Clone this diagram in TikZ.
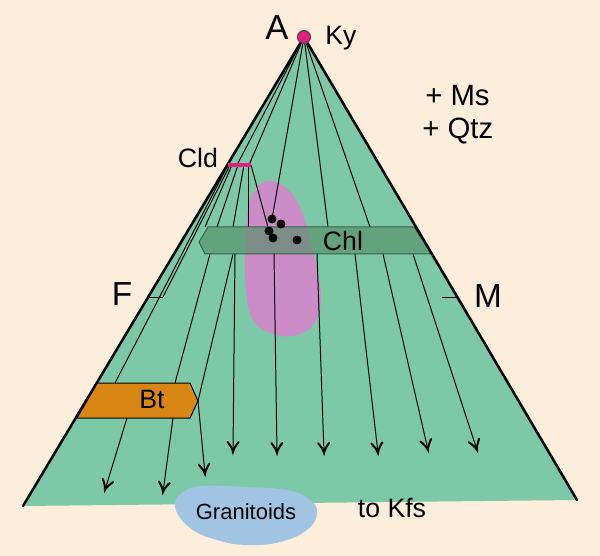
\documentclass[tikz,border=0pt]{standalone}
\usepackage{fontspec}
\setmainfont{Liberation Sans}
\usepackage{tikz}

\definecolor{paper}{RGB}{253,238,220}
\definecolor{afmgreen}{RGB}{125,201,167}
\definecolor{chlgreen}{RGB}{84,144,104}
\definecolor{chledge}{RGB}{50,100,70}
\definecolor{bulkpink}{RGB}{204,140,200}
\definecolor{btorange}{RGB}{217,135,20}
\definecolor{granblue}{RGB}{160,196,226}
\definecolor{kymagenta}{RGB}{228,30,128}

\begin{document}
\begin{tikzpicture}[x=0.75pt,y=0.75pt,yscale=-1,xscale=1,
  tie/.style={color=black, line width=0.75},
  rim/.style={color=black, line width=1.9, line cap=round},
  barb/.style={color=black, line width=1.5, line cap=round},
  lbl/.style={inner sep=0pt, anchor=base, font=\fontsize{20}{24}\selectfont},
  corner/.style={inner sep=0pt, anchor=base, font=\fontsize{26}{30}\selectfont}]
\useasboundingbox (0,0) rectangle (600,556);

%Background
\fill [paper] (0,0) rectangle (600,556);
%Shape: Triangle
\fill [afmgreen] (304,37) -- (577,500) -- (23,506) -- cycle ;
%Shape: Blob (pink field)
\fill [bulkpink] plot [smooth cycle, tension=0.7] coordinates {(268,181) (285,187) (299,205) (309,235) (317,270) (321,300) (313,325) (292,336) (268,332) (252,318) (246,290) (245,250) (248,210) (256,189)} ;

\coordinate (ky) at (304,37);
\coordinate (cldL) at (228,165);
\coordinate (cldR) at (251,165);
\coordinate (chlA) at (272,219);
\coordinate (chlB) at (281,224);
\coordinate (chlC) at (269,231);
\coordinate (chlD) at (273,238);
\coordinate (chlE) at (297,240);
\coordinate (bttip) at (198,401);

%Straight Lines (from Ky)
\draw [tie] (ky) -- (237,165) ;
\draw [tie] (ky) -- (249,165) ;
\draw [tie] (ky) -- (chlA) ;
\draw [tie] (ky) -- (328,227) ;
\draw [tie] (ky) -- (370,227) ;
%Straight Lines (from Cld)
\draw [tie] (cldL) -- (115,383) ;
\draw [tie] (230,165) -- (163,297) ;
\draw [tie] (232,165) -- (205,227) ;
\draw [tie] (238,165) -- (217,227) ;
\draw [tie] (244,165) -- (233,227) ;
\draw [tie] (248,165) -- (248,227) ;
\draw [tie] (cldR) -- (chlC) ;
%Straight Lines (below Chl)
\draw [tie] (210,254) -- (175,383) ;
\draw [tie] (233,254) -- (bttip) ;

%Shape: Chl band
\filldraw [fill=chlgreen, fill opacity=0.65, draw=chledge, line width=0.75] (208,227) -- (414,227) -- (432,254) -- (205,254) -- (199,242) -- cycle ;
%Shape: Bt band
\filldraw [fill=btorange, draw=black, line width=0.75] (97,383) -- (190,383) -- (bttip) -- (190,418) -- (77,418) -- cycle ;

%Straight Lines (arrows)
\draw [tie] (127,418) -- (105,490) ;
\draw [shift={(105,490)}, rotate = 287.0] [barb] (10,-5.5) .. controls (6.5,-2.7) and (3.2,-0.7) .. (0,0) .. controls (3.2,0.7) and (6.5,2.7) .. (10,5.5) ;
\draw [tie] (173,418) -- (163,492) ;
\draw [shift={(163,492)}, rotate = 277.7] [barb] (10,-5.5) .. controls (6.5,-2.7) and (3.2,-0.7) .. (0,0) .. controls (3.2,0.7) and (6.5,2.7) .. (10,5.5) ;
\draw [tie] (bttip) -- (205,474) ;
\draw [shift={(205,474)}, rotate = 264.5] [barb] (10,-5.5) .. controls (6.5,-2.7) and (3.2,-0.7) .. (0,0) .. controls (3.2,0.7) and (6.5,2.7) .. (10,5.5) ;
\draw [tie] (235,254) -- (233,452) ;
\draw [shift={(233,452)}, rotate = 270.6] [barb] (10,-5.5) .. controls (6.5,-2.7) and (3.2,-0.7) .. (0,0) .. controls (3.2,0.7) and (6.5,2.7) .. (10,5.5) ;
\draw [tie] (274,254) -- (277,453) ;
\draw [shift={(277,453)}, rotate = 269.1] [barb] (10,-5.5) .. controls (6.5,-2.7) and (3.2,-0.7) .. (0,0) .. controls (3.2,0.7) and (6.5,2.7) .. (10,5.5) ;
\draw [tie] (317,254) -- (324,453) ;
\draw [shift={(324,453)}, rotate = 268.0] [barb] (10,-5.5) .. controls (6.5,-2.7) and (3.2,-0.7) .. (0,0) .. controls (3.2,0.7) and (6.5,2.7) .. (10,5.5) ;
\draw [tie] (355,254) -- (378,453) ;
\draw [shift={(378,453)}, rotate = 263.4] [barb] (10,-5.5) .. controls (6.5,-2.7) and (3.2,-0.7) .. (0,0) .. controls (3.2,0.7) and (6.5,2.7) .. (10,5.5) ;
\draw [tie] (383,254) -- (428,450) ;
\draw [shift={(428,450)}, rotate = 257.1] [barb] (10,-5.5) .. controls (6.5,-2.7) and (3.2,-0.7) .. (0,0) .. controls (3.2,0.7) and (6.5,2.7) .. (10,5.5) ;
\draw [tie] (413,254) -- (477,450) ;
\draw [shift={(477,450)}, rotate = 251.9] [barb] (10,-5.5) .. controls (6.5,-2.7) and (3.2,-0.7) .. (0,0) .. controls (3.2,0.7) and (6.5,2.7) .. (10,5.5) ;

%Shape: Granitoids
\fill [granblue] plot [smooth cycle, tension=0.7] coordinates {(175,507) (183,492) (203,486) (243,487) (287,490) (310,500) (317,513) (307,530) (280,542) (247,545) (217,540) (190,528)} ;

%Straight Lines (rims and ticks)
\draw [rim] (23,506) -- (ky) -- (577,500) ;
\draw [tie] (148,297) -- (163,297) ;
\draw [tie] (442,297) -- (457,297) ;
%Cld bar
\draw [kymagenta, line width=3] (cldL) -- (cldR) ;
%Chl analyses
\fill (chlA) circle [radius=4.5] ;
\fill (chlB) circle [radius=4.5] ;
\fill (chlC) circle [radius=4.5] ;
\fill (chlD) circle [radius=4.5] ;
\fill (chlE) circle [radius=4.5] ;
%Ky point
\filldraw [fill=kymagenta, draw=black!70, line width=0.75] (ky) circle [radius=6.5] ;

% labels
\node [corner] (apexlbl) at (277,40) {A};
\node [lbl, font=\fontsize{20}{24}\selectfont] (kylbl) at (341,45) {Ky};
\node [lbl] (cldlbl) at (198,168) {Cld};
\node [lbl, anchor=base west, font=\fontsize{22}{26}\selectfont] (mslbl) at (425,106) {+ Ms};
\node [lbl, anchor=base west, font=\fontsize{22}{26}\selectfont] (qtzlbl) at (422,139) {+ Qtz};
\node [corner, font=\fontsize{25}{30}\selectfont] (flbl) at (122,305) {F};
\node [corner, font=\fontsize{25}{30}\selectfont] (mlbl) at (488,307) {M};
\node [lbl] (chllbl) at (343,251) {Chl};
\node [lbl] (btlbl) at (152,408) {Bt};
\node [lbl, font=\fontsize{16.5}{20}\selectfont] (granlbl) at (246,519) {Granitoids};
\node [lbl] (kfslbl) at (392,517) {to Kfs};
\end{tikzpicture}
\end{document}
